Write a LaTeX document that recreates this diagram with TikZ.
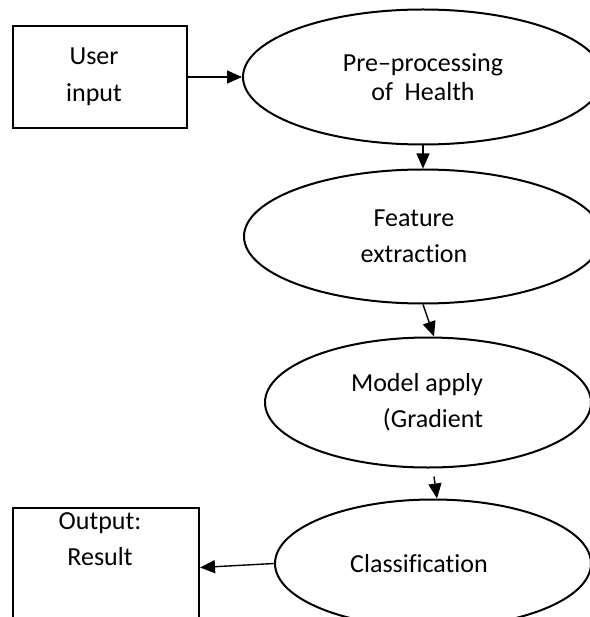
\documentclass[tikz,border=0pt]{standalone}
\usepackage{fontspec}
\setmainfont{Carlito}[Ligatures={TeX,NoCommon}]
\usetikzlibrary{arrows.meta,positioning,shapes.geometric}
\newcommand{\rpad}[1]{\rule{#1}{0pt}}

\begin{document}
\begin{tikzpicture}[x=1pt,y=-1pt,
  box/.style={draw,line width=2pt,inner sep=0pt,align=center,
    font=\fontsize{26pt}{37pt}\selectfont},
  oval/.style={draw,ellipse,line width=2pt,inner sep=0pt,align=center,
    font=\fontsize{26pt}{36pt}\selectfont},
  arr/.style={-{Triangle[length=15pt,width=13pt]},line width=1.4pt},
  lbl/.style={align=center,inner sep=0pt,font=\fontsize{26pt}{36pt}\selectfont}
]
\useasboundingbox (0,0) rectangle (589,617);

\node[box,minimum width=174pt,minimum height=102pt] (userin) at (100,77)
  {User\rpad{12pt}\\input\rpad{12pt}};
\node[oval,minimum width=360pt,minimum height=135pt,right=54pt of userin,
  font=\fontsize{26pt}{29pt}\selectfont] (prep)
  {Pre--processing\\of~~Health};
\node[oval,minimum width=358pt,minimum height=134pt,below=23pt of prep] (feat)
  {Feature\rpad{18pt}\\extraction\rpad{18pt}};
\node[oval,align=right,minimum width=326pt,minimum height=130pt,
  below=32pt of feat,xshift=5pt] (model)
  {Model apply\rpad{22pt}\\(Gradient\rpad{22pt}};
\node[oval,minimum width=316pt,minimum height=128pt,
  below=30pt of model,xshift=5pt] (classif)
  {Classification\rpad{28pt}};
\node[box,minimum width=186pt,minimum height=120pt,left=74pt of classif,
  yshift=-4pt,label={[lbl,name=outtxt,anchor=north,xshift=-6pt,yshift=-6pt]
  north:{Output:\\Result}}] (outres) {};

\draw[arr] (userin) -- (prep);
\draw[arr] (prep) -- (feat);
\draw[arr] (feat.south) -- ([xshift=6pt]model.north);
\draw[arr] ([xshift=6pt,yshift=-8pt]model.south) -- ([xshift=4pt]classif.north);
\draw[arr] (classif.west) -- (outres.east);
\end{tikzpicture}
\end{document}
